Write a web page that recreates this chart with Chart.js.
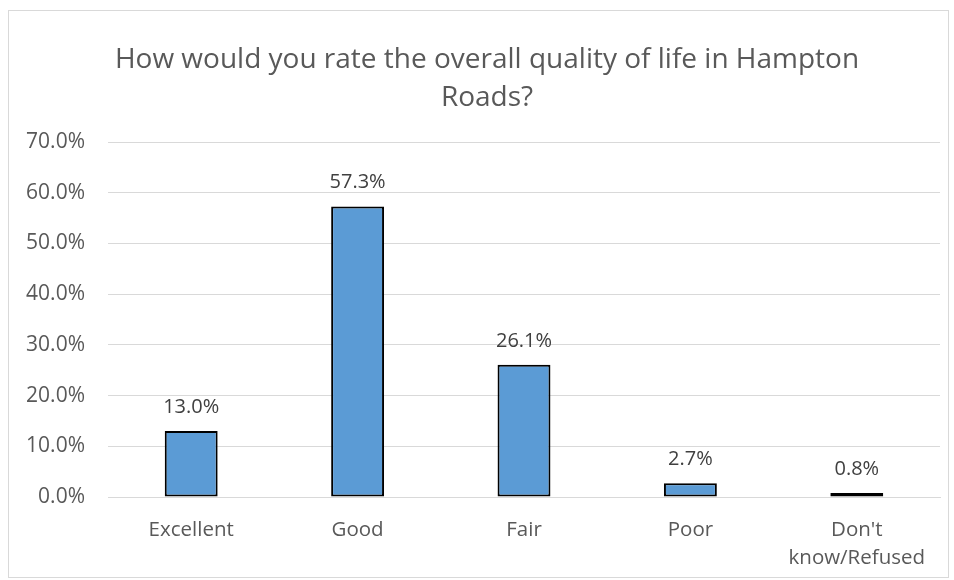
<!DOCTYPE html>
<html>
<head>
<meta charset="utf-8">
<script src="https://cdn.jsdelivr.net/npm/chart.js@4.4.1/dist/chart.umd.min.js"></script>
<style>
  html, body { margin: 0; padding: 0; background: #fff; }
  #caixa {
    position: absolute; left: 8px; top: 10px;
    width: 939px; height: 566px;
    border: 1px solid #d9d9d9;
  }
</style>
</head>
<body>
<div id="caixa"><canvas id="grafico" width="939" height="566"></canvas></div>
<script>
const categorias = [['Excellent'], ['Good'], ['Fair'], ['Poor'], ["Don't", 'know/Refused']];
const valores = [13.0, 57.3, 26.1, 2.7, 0.8];
const rotulosEixo = ['0.0%', '10.0%', '20.0%', '30.0%', '40.0%', '50.0%', '60.0%', '70.0%'];
const titulo = ['How would you rate the overall quality of life in Hampton', 'Roads?'];

const fonte = '"Open Sans", "DejaVu Sans", sans-serif';

// título desenhado à mão (o do Excel não fica centrado no canvas)
const tituloGrafico = {
  id: 'tituloGrafico',
  afterDraw(chart) {
    const ctx = chart.ctx;
    ctx.save();
    ctx.font = '28px ' + fonte;
    ctx.fillStyle = '#595959';
    ctx.textAlign = 'center';
    ctx.textBaseline = 'middle';
    titulo.forEach((linha, i) => ctx.fillText(linha, 478, 49 + i * 38));
    ctx.restore();
  }
};

// rótulos de dados acima das barras
const rotulosDados = {
  id: 'rotulosDados',
  afterDatasetsDraw(chart) {
    const ctx = chart.ctx;
    const meta = chart.getDatasetMeta(0);
    ctx.save();
    ctx.font = '20px ' + fonte;
    ctx.fillStyle = '#404040';
    ctx.textAlign = 'center';
    ctx.textBaseline = 'alphabetic';
    meta.data.forEach((barra, i) => {
      ctx.fillText(valores[i].toFixed(1) + '%', barra.x, barra.y - 18);
    });
    ctx.restore();
  }
};

new Chart(document.getElementById('grafico'), {
  type: 'bar',
  data: {
    labels: categorias,
    datasets: [{
      data: valores,
      backgroundColor: '#5b9bd5',
      borderColor: '#000000',
      borderWidth: 2,
      borderSkipped: false,
      barPercentage: 0.318,
      categoryPercentage: 1
    }]
  },
  options: {
    responsive: false,
    animation: false,
    layout: { padding: { left: 0, right: 8, top: 131, bottom: 0 } },
    plugins: {
      legend: { display: false },
      tooltip: { enabled: false },
      title: { display: false }
    },
    scales: {
      y: {
        min: 0,
        max: 70,
        ticks: {
          stepSize: 10,
          color: '#595959',
          font: { family: fonte, size: 21 },
          padding: 23,
          callback: (v, i) => rotulosEixo[i]
        },
        grid: { color: '#d9d9d9', drawTicks: false },
        border: { display: false },
        afterFit(scale) { scale.width = 99; }
      },
      x: {
        ticks: {
          color: '#595959',
          font: { family: fonte, size: 20.5, lineHeight: 1.38 },
          padding: 19,
          maxRotation: 0
        },
        grid: { display: false, drawTicks: false },
        border: { display: true, color: '#d9d9d9' },
        afterFit(scale) { scale.height = 80; }
      }
    }
  },
  plugins: [rotulosDados, tituloGrafico]
});
</script>
</body>
</html>
